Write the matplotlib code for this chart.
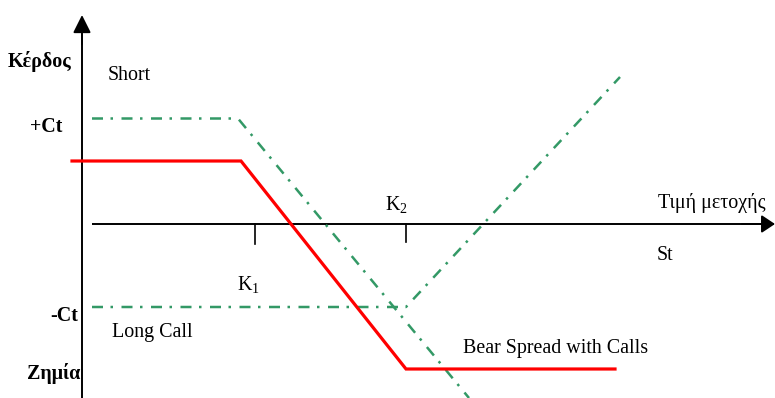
import matplotlib.pyplot as plt

plt.rcParams["font.family"] = ["Liberation Serif", "DejaVu Serif"]
plt.rcParams["mathtext.fontset"] = "custom"
plt.rcParams["mathtext.rm"] = "Liberation Serif"

# payoff diagram data (stock price St vs profit)
k1 = 17.3
k2 = 32.4

short_st = [1.0, 15.6, 38.7]
short_pnl = [10.55, 10.55, -17.4]

long_st = [1.0, 32.4, 53.8]
long_pnl = [-8.3, -8.3, 14.7]

bear_st = [-1.0, 15.9, 32.4, 53.3]
bear_pnl = [6.3, 6.3, -14.5, -14.5]

green = "#339966"
dashdot = (0, (4.4, 3.0, 1.0, 3.4))
fs = 14.4

fig = plt.figure(figsize=(7.75, 3.98), dpi=100)
ax = fig.add_axes([0, 0, 1, 1])
ax.set_xlim(-8.2, 69.3)
ax.set_ylim(-17.4, 22.4)
ax.axis("off")

# axes with arrow heads
ax.plot([0, 0], [-17.4, 19.0], color="k", lw=1.4, solid_capstyle="butt")
ax.annotate("", xy=(0, 20.9), xytext=(0, 18.0),
            arrowprops=dict(arrowstyle="-|>,head_length=0.4,head_width=0.2",
                            mutation_scale=27, lw=1.4, color="k",
                            shrinkA=0, shrinkB=0))
ax.plot([1.0, 68.0], [0, 0], color="k", lw=1.4, solid_capstyle="butt")
ax.annotate("", xy=(69.3, 0), xytext=(66.0, 0),
            arrowprops=dict(arrowstyle="-|>,head_length=0.3,head_width=0.2",
                            mutation_scale=27, lw=1.4, color="k",
                            shrinkA=0, shrinkB=0))

# strike ticks
ax.plot([k1, k1], [0, -2.0], color="k", lw=1.2)
ax.plot([k2, k2], [0, -1.8], color="k", lw=1.2)

# payoff lines
ax.plot(short_st, short_pnl, color=green, lw=1.8, linestyle=dashdot)
ax.plot(long_st, long_pnl, color=green, lw=1.8, linestyle=dashdot)
ax.plot(bear_st, bear_pnl, color="#ff0000", lw=2.3, solid_joinstyle="miter")

# labels
ax.text(-7.4, 16.3, "Κέρδος", fontsize=fs, fontweight="bold", va="center")
ax.text(-5.2, 9.7, "+Ct", fontsize=fs, fontweight="bold", va="center")
ax.text(-3.2, -9.2, "-Ct", fontsize=fs, fontweight="bold", va="center")
ax.text(-5.5, -14.9, "Ζημία", fontsize=fs, fontweight="bold", va="center")
ax.text(2.6, 14.8, "Short", fontsize=fs, va="center")
ax.text(3.0, -10.9, "Long Call", fontsize=fs, va="center")
ax.text(15.5, -6.1, r"$\mathrm{K}_1$", fontsize=fs, va="center")
ax.text(30.3, 1.9, r"$\mathrm{K}_2$", fontsize=fs, va="center")
ax.text(57.6, 2.1, "Τιμή μετοχής", fontsize=fs, va="center")
ax.text(57.5, -3.2, "St", fontsize=fs, va="center")
ax.text(38.1, -12.4, "Bear Spread with Calls", fontsize=fs, va="center")

fig.savefig("out.png", dpi=100)
